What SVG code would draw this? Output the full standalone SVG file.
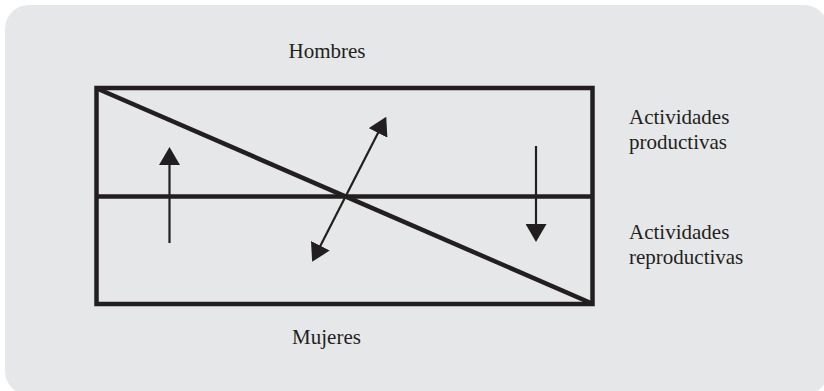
<svg xmlns="http://www.w3.org/2000/svg" width="824" height="391" viewBox="0 0 824 391">
  <defs>
    <style>
      .bg { fill: #E6E7E8; }
      .frame { fill: none; stroke: #231F20; stroke-width: 4.5; }
      .thick { stroke: #231F20; stroke-width: 4.5; fill: none; }
      .shaft { stroke: #231F20; stroke-width: 2.2; fill: none; }
      .lbl { font-family: "Liberation Serif", "Times New Roman", serif; font-size: 21px; fill: #231F20; }
    </style>
    <marker id="head" viewBox="0 0 18 21" refX="1" refY="10.5" markerWidth="18" markerHeight="21" markerUnits="userSpaceOnUse" orient="auto-start-reverse">
      <path d="M0,0 L18,10.5 L0,21 Z" fill="#231F20"/>
    </marker>
  </defs>

  <rect class="bg" x="5" y="5" width="823" height="390" rx="24" ry="24"/>

  <g id="box">
    <rect class="frame" x="96.5" y="88" width="496" height="216"/>
    <line class="thick" x1="96.5" y1="196.5" x2="592.5" y2="196.5"/>
    <line class="thick" x1="97" y1="88.5" x2="592" y2="303.5"/>
  </g>

  <g id="connectors">
    <line class="shaft" x1="169.5" y1="243" x2="169.5" y2="164" marker-end="url(#head)"/>
    <line class="shaft" x1="536" y1="146" x2="536" y2="225" marker-end="url(#head)"/>
    <line class="shaft" x1="319.9" y1="246.7" x2="378.5" y2="132" marker-start="url(#head)" marker-end="url(#head)"/>
  </g>

  <g id="label-hombres">
    <text class="lbl" x="327" y="58" text-anchor="middle">Hombres</text>
  </g>
  <g id="label-mujeres">
    <text class="lbl" x="326.5" y="344" text-anchor="middle">Mujeres</text>
  </g>
  <g id="label-productivas">
    <text class="lbl" x="629" y="123.5">Actividades</text>
    <text class="lbl" x="629" y="148.5">productivas</text>
  </g>
  <g id="label-reproductivas">
    <text class="lbl" x="629" y="238.5">Actividades</text>
    <text class="lbl" x="629" y="263.5">reproductivas</text>
  </g>
</svg>
